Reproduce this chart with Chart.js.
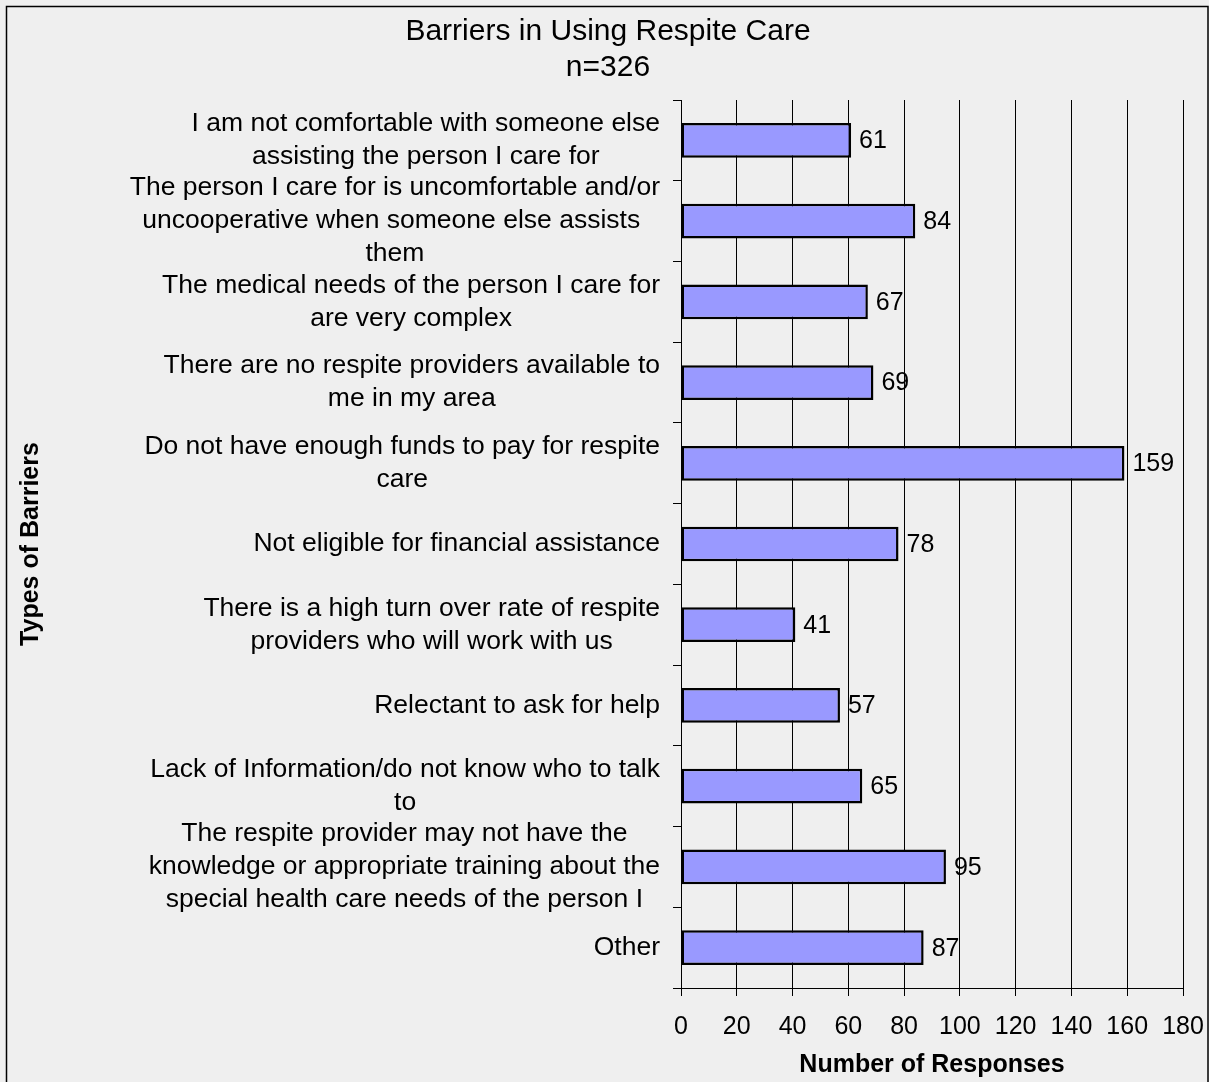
<!DOCTYPE html>
<html>
<head>
<meta charset="utf-8">
<script src="https://cdn.jsdelivr.net/npm/chart.js@4/dist/chart.umd.min.js"></script>
<style>
    html, body { margin: 0; padding: 0; background: #efefef; }
    #chart-container { width: 1209px; height: 1082px; }
</style>
</head>
<body>
<div id="chart-container"><canvas id="barriersChart"></canvas></div>
<script>
// barrier categories, each split into the lines it is printed on
const barrierLabels = [
    ['I am not comfortable with someone else', 'assisting the person I care for'],
    ['The person I care for is uncomfortable and/or', 'uncooperative when someone else assists ', 'them'],
    ['The medical needs of the person I care for', 'are very complex'],
    ['There are no respite providers available to', 'me in my area'],
    ['Do not have enough funds to pay for respite', 'care'],
    ['Not eligible for financial assistance'],
    ['There is a high turn over rate of respite', 'providers who will work with us'],
    ['Relectant to ask for help'],
    ['Lack of Information/do not know who to talk', 'to'],
    ['The respite provider may not have the', 'knowledge or appropriate training about the', 'special health care needs of the person I'],
    ['Other']
];
const responseCounts = [61, 84, 67, 69, 159, 78, 41, 57, 65, 95, 87];
const xTicks = [0, 20, 40, 60, 80, 100, 120, 140, 160, 180];
const chartTitle = ['Barriers in Using Respite Care', 'n=326'];

const FONT = "'Liberation Sans', Arial, sans-serif";

// background, frame and the two-line title centred on the page
const framePlugin = {
    id: 'frame',
    beforeDraw(chart) {
        const ctx = chart.ctx;
        ctx.save();
        ctx.fillStyle = '#efefef';
        ctx.fillRect(0, 0, chart.width, chart.height);
        ctx.strokeStyle = '#000';
        ctx.lineWidth = 1.5;
        ctx.strokeRect(6.5, 6.5, 1201.5, chart.height + 10);
        ctx.font = `30px ${FONT}`;
        ctx.fillStyle = '#000';
        ctx.textAlign = 'center';
        ctx.textBaseline = 'middle';
        chartTitle.forEach((line, i) => ctx.fillText(line, 608, 32 + i * 36));
        ctx.restore();
    }
};

// category labels: lines centred on each other, block right-aligned
const categoryLabelPlugin = {
    id: 'categoryLabels',
    afterDraw(chart) {
        const ctx = chart.ctx;
        const yScale = chart.scales.y;
        const rightEdge = chart.chartArea.left - 21;
        const lineHeight = 33;
        ctx.save();
        ctx.font = `26.5px ${FONT}`;
        ctx.fillStyle = '#000';
        ctx.textAlign = 'center';
        ctx.textBaseline = 'middle';
        barrierLabels.forEach((lines, i) => {
            const blockWidth = Math.max(...lines.map(l => ctx.measureText(l).width));
            const cx = rightEdge - blockWidth / 2;
            const cy = yScale.getPixelForValue(i);
            const y0 = cy - (lines.length - 1) * lineHeight / 2;
            lines.forEach((line, j) => ctx.fillText(line, cx, y0 + j * lineHeight));
        });
        ctx.restore();
    }
};

// value printed just past the end of each bar
const valueLabelPlugin = {
    id: 'valueLabels',
    afterDatasetsDraw(chart) {
        const ctx = chart.ctx;
        const meta = chart.getDatasetMeta(0);
        ctx.save();
        ctx.font = `25px ${FONT}`;
        ctx.fillStyle = '#000';
        ctx.textAlign = 'left';
        ctx.textBaseline = 'middle';
        meta.data.forEach((bar, i) => {
            ctx.fillText(String(responseCounts[i]), bar.x + 8, bar.y + 1);
        });
        ctx.restore();
    }
};

const ctx = document.getElementById('barriersChart').getContext('2d');
new Chart(ctx, {
    type: 'bar',
    data: {
        labels: barrierLabels.map(l => l.join(' ')),
        datasets: [{
            data: responseCounts,
            backgroundColor: '#9999ff',
            borderColor: '#000',
            borderWidth: 2.5,
            borderSkipped: false,
            categoryPercentage: 1,
            barPercentage: 0.43
        }]
    },
    options: {
        indexAxis: 'y',
        responsive: true,
        maintainAspectRatio: false,
        animation: false,
        layout: { padding: { left: 7, right: 26, top: 100, bottom: 2 } },
        plugins: {
            legend: { display: false },
            tooltip: { enabled: false },
            title: { display: false }
        },
        scales: {
            x: {
                min: 0,
                max: 180,
                afterBuildTicks(scale) {
                    scale.ticks = xTicks.map(v => ({ value: v }));
                },
                afterFit(scale) {
                    scale.height = 92;
                    scale.paddingLeft = 0;
                    scale.paddingRight = 0;
                },
                border: { display: true, color: '#000', width: 1 },
                grid: { color: '#000', lineWidth: 1, tickLength: 8, drawTicks: true },
                ticks: {
                    color: '#000',
                    font: { family: FONT, size: 25 },
                    padding: 16,
                    maxRotation: 0
                },
                title: {
                    display: true,
                    text: 'Number of Responses',
                    color: '#000',
                    font: { family: FONT, size: 25, weight: 'bold' },
                    padding: { top: 0, bottom: 0 }
                }
            },
            y: {
                afterFit(scale) {
                    scale.width = 674;
                    scale.paddingTop = 0;
                    scale.paddingBottom = 0;
                },
                border: { display: true, color: '#000', width: 1 },
                grid: { offset: true, drawOnChartArea: false, color: '#000', tickLength: 8 },
                ticks: { display: false },
                title: {
                    display: true,
                    text: 'Types of Barriers',
                    color: '#000',
                    font: { family: FONT, size: 25, weight: 'bold' },
                    padding: { top: 9, bottom: 0 }
                }
            }
        }
    },
    plugins: [framePlugin, categoryLabelPlugin, valueLabelPlugin]
});
</script>
</body>
</html>
